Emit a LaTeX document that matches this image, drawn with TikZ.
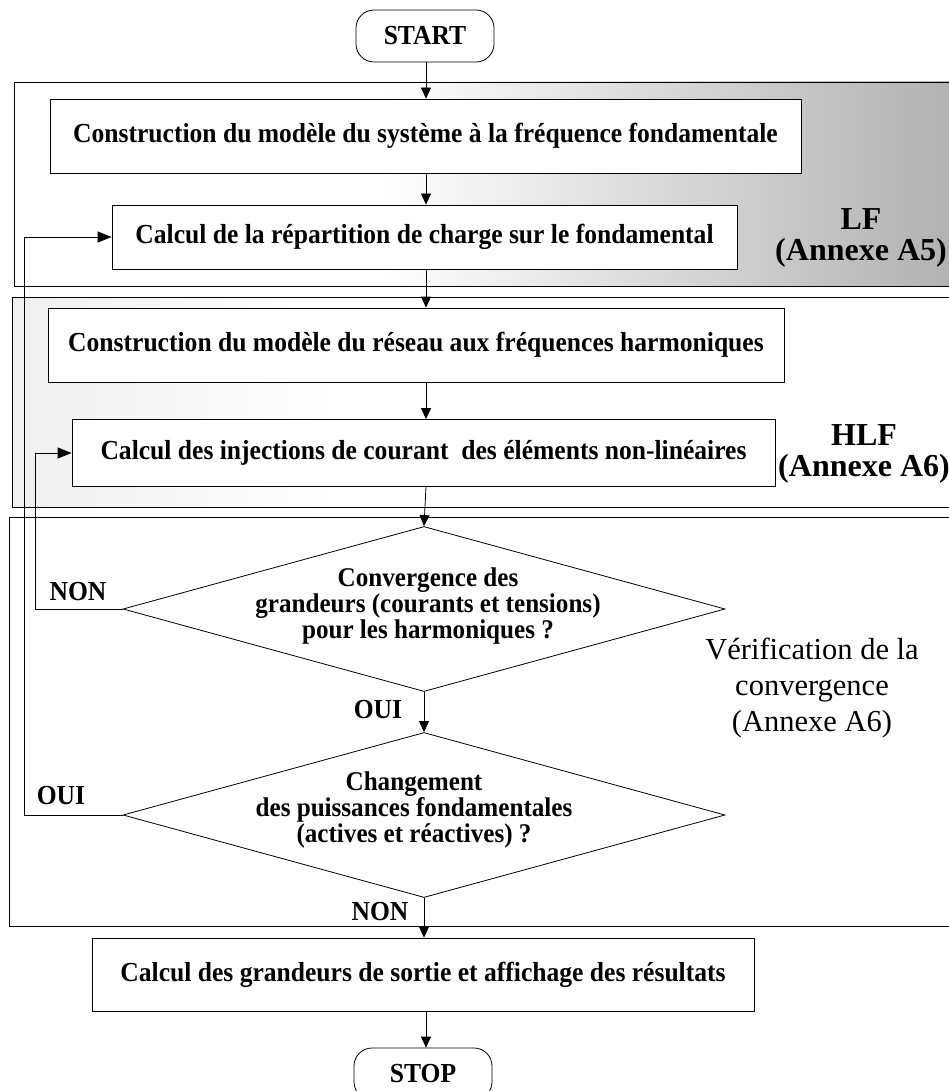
\documentclass[tikz,border=0pt]{standalone}
\usepackage{fontspec}
\setmainfont{Liberation Serif}
\newfontfamily\condf{Liberation Serif}[FakeStretch=0.93]
\usetikzlibrary{arrows.meta,shapes.geometric,shapes.misc}
\pgfdeclarehorizontalshading{lfshade}{100bp}{color(0bp)=(white); color(25bp)=(white); color(44bp)=(white); color(75bp)=(black!32); color(100bp)=(black!32)}
\pgfdeclarehorizontalshading{hlfshade}{100bp}{color(0bp)=(black!6); color(25bp)=(black!6); color(42bp)=(white); color(100bp)=(white)}
\tikzset{
  x=1pt, y=-1pt,
  ln/.style={line width=0.8pt, draw=black},
  arr/.style={ln, -{Triangle[length=11pt,width=10pt]}},
  farr/.style={ln, -{Triangle[length=14pt,width=11pt]}},
  txt/.style={font=\condf\fontsize{27.5}{25}\selectfont\bfseries, align=center},
  dtxt/.style={font=\condf\fontsize{27}{24.5}\selectfont\bfseries, align=center},
  box/.style={ln, fill=white, rectangle, inner sep=0pt, txt},
  term/.style={ln, fill=white, rounded corners=18pt, minimum width=138pt, minimum height=52pt, inner sep=0pt, txt},
  dec/.style={ln, fill=white, diamond, inner sep=0pt, minimum width=602pt, minimum height=165pt},
  big/.style={font=\fontsize{32}{31}\selectfont\bfseries, align=center},
  bigr/.style={font=\fontsize{30.5}{36}\selectfont, align=center},
}
\begin{document}
\begin{tikzpicture}
\useasboundingbox (0,0) rectangle (949,1091);
% regions
\shadedraw[shading=lfshade, ln] (14,82) rectangle (980,286);
\shadedraw[shading=hlfshade, ln] (12,297) rectangle (980,507);
\draw[ln] (9,517) rectangle (980,926);
% nodes
\node[term] (start) at (425,36) {START};
\node[box, minimum width=751pt, minimum height=74pt] (b1) at (425.5,136) {Construction du modèle du système à la fréquence fondamentale};
\node[box, minimum width=625pt, minimum height=64pt] (b2) at (424.5,237) {Calcul de la répartition de charge sur le fondamental};
\node[box, minimum width=736pt, minimum height=74pt] (b3) at (416,345) {Construction du modèle du réseau aux fréquences harmoniques};
\node[box, minimum width=703pt, minimum height=67pt] (b4) at (423.5,453) {Calcul des injections de courant\ \ des éléments non-linéaires};
\node[dec] (d1) at (424,609) {};
\node[dtxt] (d1t) at (428,606) {Convergence des\\grandeurs (courants et tensions)\\pour les harmoniques ?};
\node[dec] (d2) at (424,815) {};
\node[dtxt] (d2t) at (414,810) {Changement\\des puissances fondamentales\\(actives et réactives) ?};
\node[box, minimum width=662pt, minimum height=73pt] (b5) at (423,974.5) {Calcul des grandeurs de sortie et affichage des résultats};
\node[term] (stop) at (423,1074) {STOP};
% side labels
\node[big] (lf) at (861,238) {LF\\(Annexe A5)};
\node[big] (hlf) at (864,454) {HLF\\(Annexe A6)};
\node[bigr] (ver) at (812,688) {Vérification de la\\convergence\\(Annexe A6)};
% main flow
\coordinate (sp) at (426,0);
\draw[arr] (start.south -| sp) -- (b1.north -| sp);
\draw[arr] (b1.south -| sp) -- (b2.north -| sp);
\draw[arr] (b2.south -| sp) -- (b3.north -| sp);
\draw[arr] (b3.south -| sp) -- (b4.north -| sp);
\draw[arr] (b4.south -| sp) -- (d1.north);
\draw[arr] (d1.south) -- (d2.north);
\draw[arr] (d2.south) -- (b5.north -| d2.south);
\draw[arr] (b5.south -| sp) -- (stop.north -| sp);
% feedback loops
\coordinate (fa) at (24,0);
\coordinate (fb) at (35,0);
\draw[farr] (d1.west) -- (d1.west -| fb) -- (fb |- b4.west) -- (b4.west);
\draw[farr] (d2.west) -- (d2.west -| fa) -- (fa |- b2.west) -- (b2.west);
% branch labels
\node[txt] (non1) at (78,592) {NON};
\node[txt] (oui1) at (61,796) {OUI};
\node[txt] (oui2) at (378,710) {OUI};
\node[txt] (non2) at (380,912) {NON};
\end{tikzpicture}
\end{document}
